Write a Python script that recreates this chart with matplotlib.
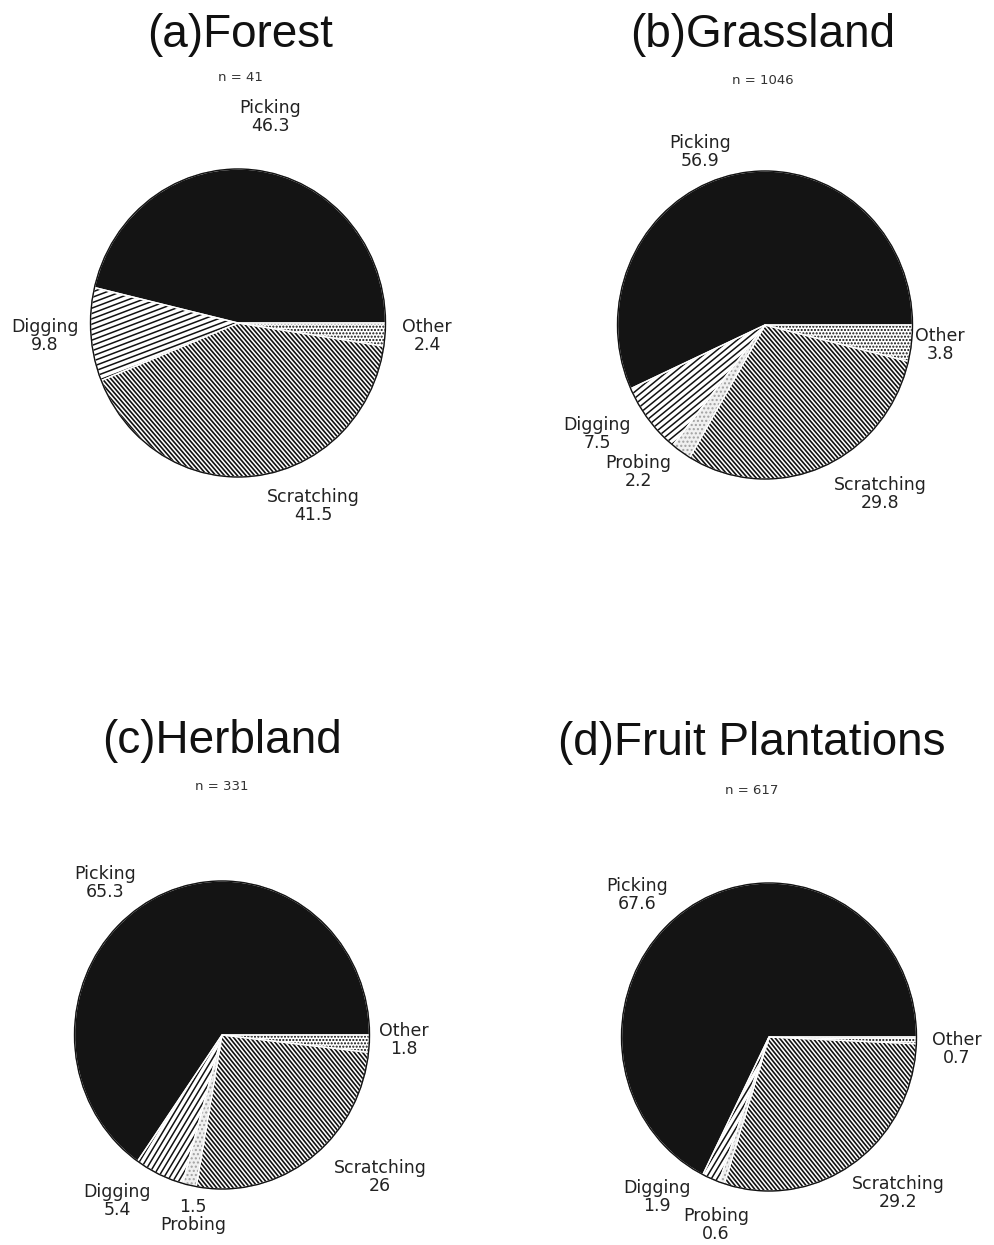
import numpy as np
import matplotlib
matplotlib.use("Agg")
import matplotlib.pyplot as plt
from matplotlib.collections import LineCollection
from matplotlib.patches import Ellipse, PathPatch

# Foraging techniques recorded in each habitat (percent of observations)
categories = ["Picking", "Digging", "Probing", "Scratching", "Other"]

forest = [46.3, 9.8, 0.0, 41.5, 2.4]
grassland = [56.9, 7.5, 2.2, 29.8, 3.8]
herbland = [65.3, 5.4, 1.5, 26, 1.8]
fruit = [67.6, 1.9, 0.6, 29.2, 0.7]

titles = ["(a)Forest", "(b)Grassland", "(c)Herbland", "(d)Fruit Plantations"]
sample_sizes = [41, 1046, 331, 617]
habitats = [forest, grassland, herbland, fruit]

# Layout in figure pixels (y measured from the top)
W, H = 994, 1245
R = 147.5          # horizontal radius in pixels
SY = 1.044         # pies are drawn slightly taller than wide
centers = [(238, 323), (765, 325), (222, 1035), (769, 1037)]
title_pos = [(240, 35), (763, 35), (222, 741), (752, 743)]
n_pos = [(240, 77), (763, 80), (222, 787), (752, 790)]
label_pos = [
    {"Picking": (270, 117), "Digging": (45, 336), "Other": (427, 336),
     "Scratching": (313, 506)},
    {"Picking": (700, 152), "Digging": (597, 434), "Probing": (638, 472),
     "Scratching": (880, 494), "Other": (940, 345)},
    {"Picking": (105, 883), "Digging": (117, 1201), "Probing": (193, 1216),
     "Scratching": (380, 1177), "Other": (404, 1040)},
    {"Picking": (637, 895), "Digging": (657, 1197), "Probing": (716, 1225),
     "Scratching": (898, 1193), "Other": (957, 1049)},
]
digging_angle = [20, 38, 58, 58]
scratch_angle = [-48, -48, -50, -50]

fig = plt.figure(figsize=(W / 100, H / 100), dpi=100)
ax = fig.add_axes([0, 0, 1, 1])


def to_data(px, py):
    return px, (H - py) / SY


def line_hatch(ax, wedge, cx, cy, angle, spacing, lw=1.1):
    """Fill a wedge with parallel lines at an arbitrary angle."""
    a = np.deg2rad(angle)
    d = np.array([np.cos(a), np.sin(a)])
    nrm = np.array([-np.sin(a), np.cos(a)])
    segs = []
    for k in np.arange(-R * 1.1, R * 1.1, spacing):
        p = np.array([cx, cy]) + k * nrm
        segs.append([p - 1.2 * R * d, p + 1.2 * R * d])
    lc = LineCollection(segs, colors="#111111", linewidths=lw,
                        zorder=wedge.get_zorder() + 0.1)
    ax.add_collection(lc)
    lc.set_clip_path(wedge)


face = {"Picking": "#141414", "Digging": "white", "Probing": "#f0f0f0",
        "Scratching": "white", "Other": "white"}
hatch = {"Picking": None, "Digging": None, "Probing": "....", "Scratching": None,
         "Other": "....."}

for i, vals in enumerate(habitats):
    cx, cy = to_data(*centers[i])
    keep = [j for j, v in enumerate(vals) if v > 0]
    v = [vals[j] for j in keep]
    names = [categories[j] for j in keep]
    wedges, _ = ax.pie(v, startangle=0, counterclock=True, center=(cx, cy), radius=R,
                       colors=[face[n] for n in names], frame=True,
                       wedgeprops=dict(edgecolor="#111111", linewidth=0.6))
    for w, n in zip(wedges, names):
        if hatch[n]:
            w.set_hatch(hatch[n])
        if n == "Probing":
            w.set_edgecolor("#a0a0a0")
        if n == "Digging":
            line_hatch(ax, w, cx, cy, digging_angle[i], 4.8, lw=1.1)
        if n == "Scratching":
            line_hatch(ax, w, cx, cy, scratch_angle[i], 3.2, lw=1.2)
    # white seams between slices, dark outer rim
    for w in wedges:
        ax.add_patch(PathPatch(w.get_path(), fill=False, edgecolor="white",
                               linewidth=1.0, zorder=w.get_zorder() + 0.2))
    ax.add_patch(Ellipse((cx, cy), 2 * R, 2 * R, fill=False, edgecolor="#111111",
                         linewidth=1.0, zorder=5))

    for n, val in zip(names, v):
        lx, ly = to_data(*label_pos[i][n])
        txt = f"{val:g}"
        label = f"{txt}\nProbing" if (i == 2 and n == "Probing") else f"{n}\n{txt}"
        ax.text(lx, ly, label, ha="center", va="center", fontsize=12.5,
                family="DejaVu Sans", linespacing=1.05, color="#222222")
    tx, ty = to_data(*title_pos[i])
    ax.text(tx, ty, titles[i], ha="center", va="center", fontsize=33,
            family="Liberation Sans", color="#111111")
    nx, ny = to_data(*n_pos[i])
    ax.text(nx, ny, f"n = {sample_sizes[i]}", ha="center", va="center",
            fontsize=9.5, family="DejaVu Sans", color="#333333")

ax.set_xlim(0, W)
ax.set_ylim(0, H / SY)
ax.set_aspect("auto")
ax.axis("off")

fig.savefig("out.png", dpi=100, facecolor="white")
